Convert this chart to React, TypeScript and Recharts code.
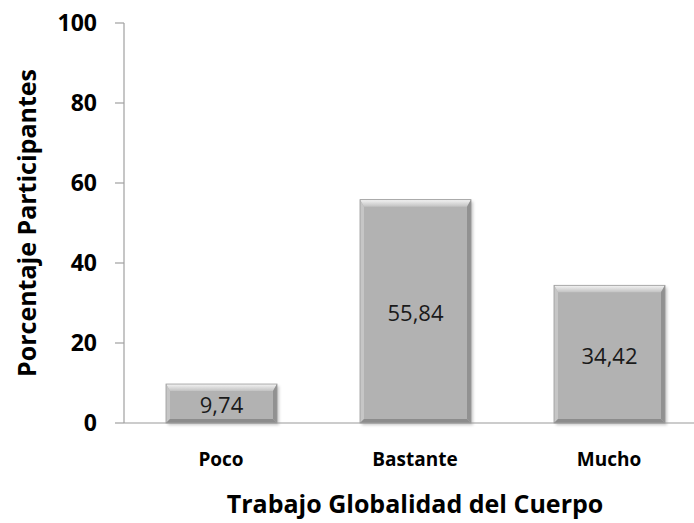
import { BarChart, Bar, XAxis, YAxis, LabelList, Label } from "recharts";

const categories = ["Poco", "Bastante", "Mucho"];
const percentages = [9.74, 55.84, 34.42];
const yTicks = [0, 20, 40, 60, 80, 100];

const data = categories.map((name, i) => ({ name, value: percentages[i] }));

const FONT = "'Open Sans', sans-serif";

// grey bar with a bevelled edge, like the office "bevel" shape effect
function BevelBar(props: any) {
    const { x, y, width: w, height: h } = props;
    if (!w || !h) return null;
    const t = Math.min(7, h / 3); // top bevel
    const s = 4; // side / bottom bevel
    return (
        <g>
            <rect x={x + 2} y={y + 2} width={w} height={h} fill="rgba(0,0,0,0.22)" filter="url(#barShadow)" />
            <rect x={x} y={y} width={w} height={h} fill="#b2b2b2" />
            <polygon points={`${x},${y} ${x + w},${y} ${x + w - s},${y + t} ${x + s},${y + t}`} fill="url(#bevelTop)" />
            <polygon points={`${x},${y} ${x + s},${y + t} ${x + s},${y + h - s} ${x},${y + h}`} fill="#c6c6c6" />
            <polygon points={`${x + w},${y} ${x + w},${y + h} ${x + w - s},${y + h - s} ${x + w - s},${y + t}`} fill="#919191" />
            <polygon points={`${x},${y + h} ${x + s},${y + h - s} ${x + w - s},${y + h - s} ${x + w},${y + h}`} fill="#8c8c8c" />
            <rect x={x} y={y} width={w} height={h} fill="none" stroke="#9a9a9a" strokeWidth={0.8} />
        </g>
    );
}

export default function App() {
    return (
        <div style={{ position: "absolute", left: 0, top: 0, width: 694, height: 523, overflow: "hidden", background: "#fff", fontFamily: FONT }}>
            <BarChart width={710} height={523} data={data} margin={{ top: 23, right: 4, bottom: 0, left: 0 }} barSize={111}>
                <defs>
                    <linearGradient id="bevelTop" x1="0" y1="0" x2="0" y2="1">
                        <stop offset="0%" stopColor="#f4f4f4" />
                        <stop offset="100%" stopColor="#c2c2c2" />
                    </linearGradient>
                    <filter id="barShadow" x="-10%" y="-10%" width="130%" height="130%">
                        <feGaussianBlur stdDeviation="1.5" />
                    </filter>
                </defs>
                <XAxis
                    dataKey="name"
                    height={100}
                    tickLine={false}
                    tickSize={0}
                    tickMargin={30}
                    axisLine={{ stroke: "#9a9a9a", strokeWidth: 1.2 }}
                    tick={{ fill: "#000", fontSize: 19, fontWeight: 700, fontFamily: FONT }}
                >
                    <Label
                        content={({ viewBox }: any) => (
                            <text x={viewBox.x + viewBox.width / 2} y={513} textAnchor="middle" fontSize={25} fontWeight={700} fontFamily={FONT} fill="#000">
                                Trabajo Globalidad del Cuerpo
                            </text>
                        )}
                    />
                </XAxis>
                <YAxis
                    width={124}
                    domain={[0, 100]}
                    ticks={yTicks}
                    tickSize={9}
                    tickMargin={18}
                    axisLine={{ stroke: "#a0a0a0", strokeWidth: 1.2 }}
                    tickLine={{ stroke: "#a0a0a0", strokeWidth: 1.2 }}
                    tick={{ fill: "#000", fontSize: 23, fontWeight: 700, fontFamily: FONT }}
                >
                    <Label
                        content={({ viewBox }: any) => {
                            const cy = viewBox.y + viewBox.height / 2;
                            return (
                                <text x={36} y={cy} transform={`rotate(-90, 36, ${cy})`} textAnchor="middle" fontSize={25} fontWeight={700} fontFamily={FONT} fill="#000">
                                    Porcentaje Participantes
                                </text>
                            );
                        }}
                    />
                </YAxis>
                <Bar dataKey="value" isAnimationActive={false} shape={(p: any) => <BevelBar {...p} />}>
                    <LabelList
                        dataKey="value"
                        position="center"
                        dy={2}
                        formatter={(v: any) => Number(v).toFixed(2).replace(".", ",")}
                        style={{ fill: "#1a1a1a", fontSize: 22, fontFamily: FONT, fontWeight: 400 }}
                    />
                </Bar>
            </BarChart>
        </div>
    );
}
